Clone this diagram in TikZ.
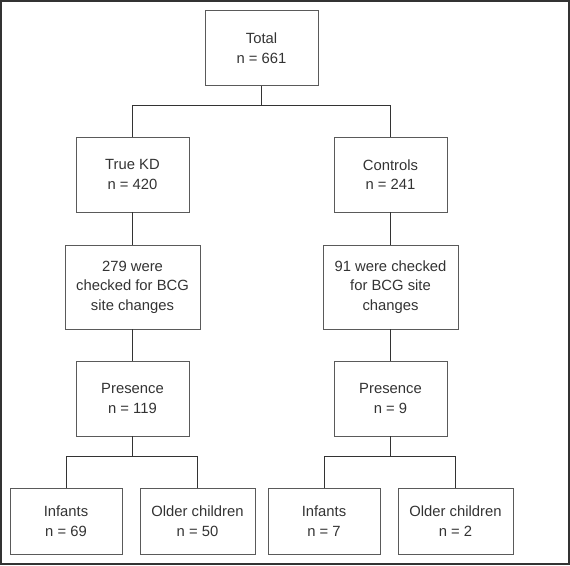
\documentclass[tikz,border=0pt]{standalone}
\usepackage{fontspec}
\setmainfont{Liberation Sans}
\usetikzlibrary{positioning}
\definecolor{inkgray}{HTML}{333333}
\definecolor{boxgray}{HTML}{5A5A5A}
\tikzset{>=latex}

\begin{document}
\begin{tikzpicture}[x=1pt, y=-1pt, box/.style={rectangle, draw=boxgray, line width=0.9pt, text=inkgray, align=center, inner sep=0pt, minimum width=113pt, minimum height=75pt, font=\fontsize{14.8}{19.5}\selectfont}, wide/.style={box, minimum width=135pt, minimum height=84pt}, leaf/.style={box, minimum height=66pt}, link/.style={draw=inkgray, line width=0.9pt}, on grid]
		\useasboundingbox (0,0) rectangle (570,565);
		\draw[inkgray, line width=2pt] (1,1) rectangle (569,564);

		\node[box] (total) at (261.5,48) {Total\\n = 661};
		\node[box] (kd) [below left=126.5pt and 129pt of total] {True KD\\n = 420};
		\node[box] (ctrl) [below right=126.5pt and 129pt of total] {Controls\\n = 241};
		\node[wide] (kdchk) [below=112.5pt of kd] {279 were\\checked for BCG\\site changes};
		\node[wide] (ctrlchk) [below=112.5pt of ctrl] {91 were checked\\for BCG site\\changes};
		\node[box] (kdpres) [below=111.5pt of kdchk] {Presence\\n = 119};
		\node[box] (ctrlpres) [below=111.5pt of ctrlchk] {Presence\\n = 9};
		\node[leaf, minimum width=112pt] (kdinf) [below left=122.5pt and 66.5pt of kdpres] {Infants\\n = 69};
		\node[leaf, minimum width=115pt] (kdold) [below right=122.5pt and 65pt of kdpres] {Older children\\n = 50};
		\node[leaf, minimum width=112pt] (ctrlinf) [below left=122.5pt and 66.5pt of ctrlpres] {Infants\\n = 7};
		\node[leaf, minimum width=115pt] (ctrlold) [below right=122.5pt and 65pt of ctrlpres] {Older children\\n = 2};

		\path (total.south) ++(0,19) coordinate (topsplit);
		\path (kdpres.south) ++(0,20) coordinate (kdsplit);
		\path (ctrlpres.south) ++(0,20) coordinate (ctrlsplit);

		\draw[link] (total) -- (topsplit);
		\draw[link] (kd) |- (topsplit) -| (ctrl);
		\draw[link] (kd) -- (kdchk);
		\draw[link] (ctrl) -- (ctrlchk);
		\draw[link] (kdchk) -- (kdpres);
		\draw[link] (ctrlchk) -- (ctrlpres);
		\draw[link] (kdpres) -- (kdsplit);
		\draw[link] (ctrlpres) -- (ctrlsplit);
		\draw[link] (kdinf) |- (kdsplit) -| (kdold);
		\draw[link] (ctrlinf) |- (ctrlsplit) -| (ctrlold);
	\end{tikzpicture}
\end{document}
